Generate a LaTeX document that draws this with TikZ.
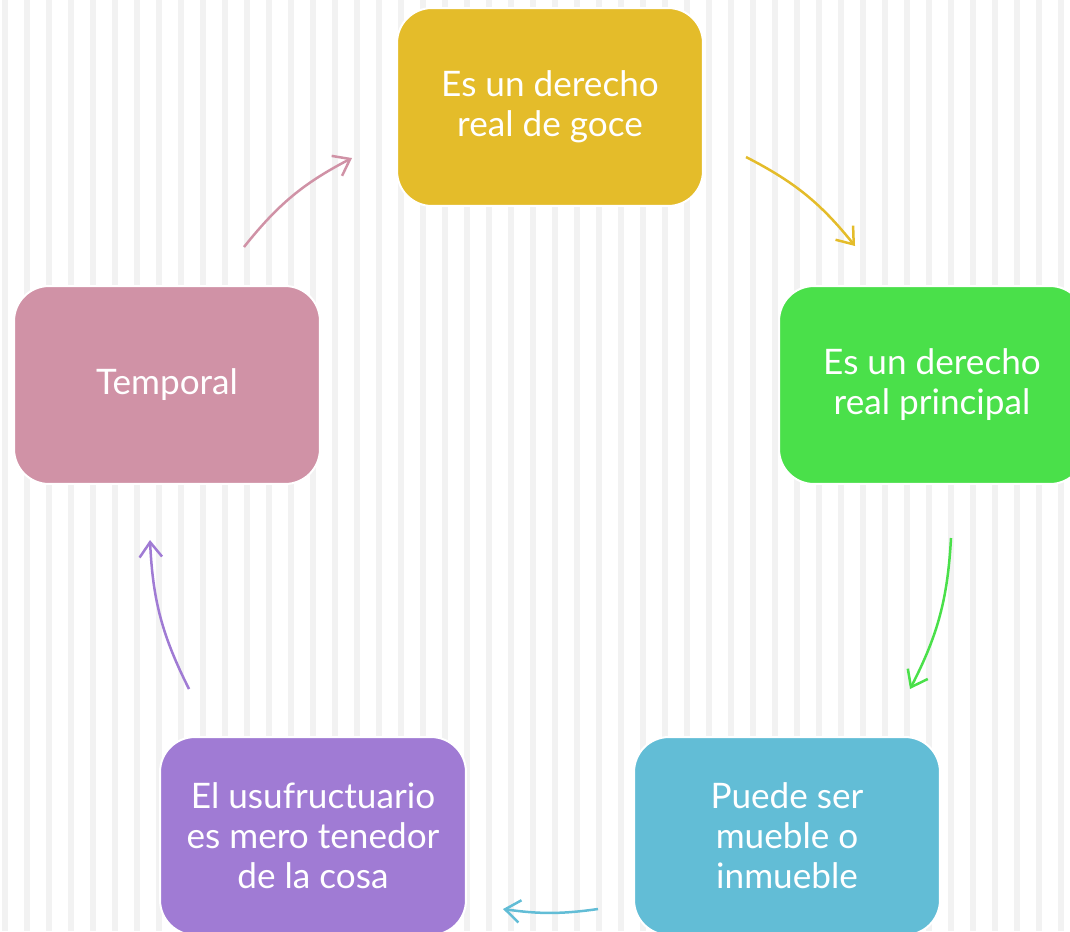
\documentclass[tikz,border=0pt]{standalone}
\usepackage{fontspec}
\setmainfont{Lato}
\usetikzlibrary{arrows.meta,positioning}
\definecolor{goce}{HTML}{E4BC2A}
\definecolor{principal}{HTML}{4AE04A}
\definecolor{mueble}{HTML}{62BDD6}
\definecolor{tenedor}{HTML}{A07BD4}
\definecolor{temporal}{HTML}{D092A6}
\definecolor{stripe}{HTML}{F2F2F2}
\begin{document}
\begin{tikzpicture}[x=0.02cm,y=-0.02cm,% pixel units, y going down
			every node/.style={
				align=center,			% so that "\\" breaks the line
				text=white,
				font=\fontsize{20}{22.8}\selectfont
			},
			card/.style={
				rectangle,rounded corners=0.7cm,draw=white,line width=0.04cm,
				minimum width=6.12cm,minimum height=3.96cm
			},
			flow/.style={line width=0.05cm,-{Straight Barb[length=0.3cm,width=0.45cm]}}
		]
		\useasboundingbox (0,0) rectangle (1070,931);
		\clip (0,0) rectangle (1070,931);
		\foreach \x in {2,24,...,1070}
			\fill[stripe] (\x,0) rectangle ++(6,931);
		\node[card,fill=goce](R1) at (550,107){Es un derecho \\ real de goce};
		\node[card,fill=principal](R2) at (932,385){Es un derecho \\ real principal};
		\node[card,fill=mueble](R3) at (787,836){Puede ser \\ mueble o \\ inmueble};
		\node[card,fill=tenedor](R4) at (313,836){El usufructuario \\ es mero tenedor \\ de la cosa};
		\node[card,fill=temporal](R5) at (167,385){Temporal};
		% free ends of the arrows
		\coordinate (a1) at (746,157); \coordinate (b1) at (855,246);
		\coordinate (a2) at (951,538); \coordinate (b2) at (910,689);
		\coordinate (a3) at (598,909); \coordinate (b3) at (503,909);
		\coordinate (a4) at (189,689); \coordinate (b4) at (150,540);
		\coordinate (a5) at (244,247); \coordinate (b5) at (352,158);
		\draw[flow,draw=goce] (a1) to[bend left=12] (b1);
		\draw[flow,draw=principal] (a2) to[bend left=12] (b2);
		\draw[flow,draw=mueble] (a3) to[bend left=8] (b3);
		\draw[flow,draw=tenedor] (a4) to[bend left=12] (b4);
		\draw[flow,draw=temporal] (a5) to[bend left=12] (b5);
	\end{tikzpicture}
\end{document}
